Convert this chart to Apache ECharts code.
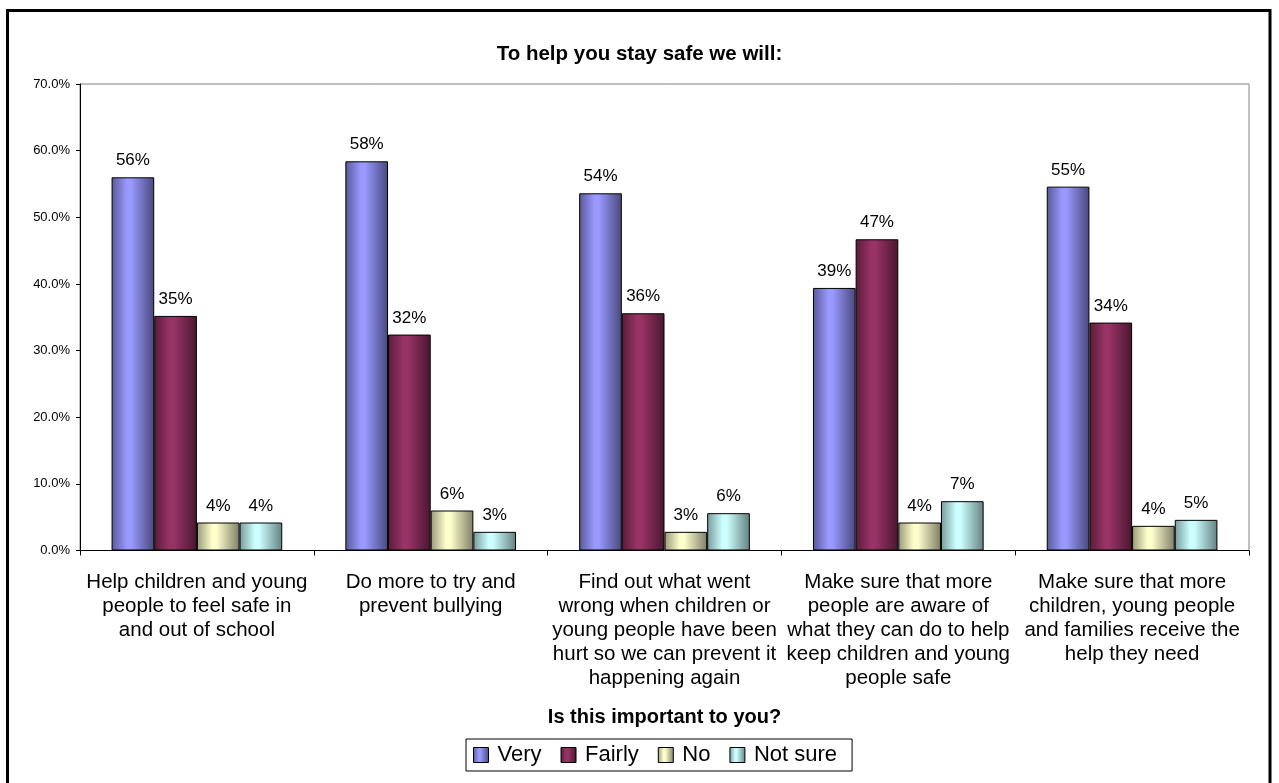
<!DOCTYPE html>
<html>
<head>
<meta charset="utf-8">
<script src="https://cdn.jsdelivr.net/npm/echarts@6/dist/echarts.min.js"></script>
<style>
  html, body { margin: 0; padding: 0; background: #fff; }
  #chart { width: 1279px; height: 783px; }
</style>
</head>
<body>
<div id="chart"></div>
<script>
// Survey answers (percent of respondents) for each commitment
const categories = [
  'Help children and young\npeople to feel safe in\nand out of school',
  'Do more to try and\nprevent bullying',
  'Find out what went\nwrong when children or\nyoung people have been\nhurt so we can prevent it\nhappening again',
  'Make sure that more\npeople are aware of\nwhat they can do to help\nkeep children and young\npeople safe',
  'Make sure that more\nchildren, young people\nand families receive the\nhelp they need'
];
const seriesNames = ['Very', 'Fairly', 'No', 'Not sure'];
const veryValues    = [56.0, 58.4, 53.6, 39.4, 54.6];
const fairlyValues  = [35.2, 32.4, 35.6, 46.7, 34.2];
const noValues      = [4.2, 6.0, 2.8, 4.2, 3.7];
const notSureValues = [4.2, 2.8, 5.6, 7.4, 4.6];
const yTicks = { min: 0, max: 70, interval: 10 };

const FONT = "'Liberation Sans', Arial, sans-serif";

// Shaded bar fill: darker edges, light band left of centre
function shade(edgeL, mid, edgeR) {
  return new echarts.graphic.LinearGradient(0, 0, 1, 0, [
    { offset: 0, color: edgeL },
    { offset: 0.36, color: mid },
    { offset: 0.46, color: mid },
    { offset: 1, color: edgeR }
  ]);
}
const fills = [
  shade('#585898', '#9999ff', '#48487c'),
  shade('#581c3a', '#993366', '#48172f'),
  shade('#98987a', '#ffffcc', '#7e7e68'),
  shade('#789a9a', '#ccffff', '#648080')
];

const valueSets = [veryValues, fairlyValues, noValues, notSureValues];

const series = seriesNames.map((name, i) => ({
  name: name,
  type: 'bar',
  data: valueSets[i],
  barGap: '0%',
  barCategoryGap: '27%',
  itemStyle: { color: fills[i], borderColor: '#000', borderWidth: 1 },
  label: {
    show: true,
    position: 'top',
    distance: 8,
    fontFamily: FONT,
    fontSize: 17,
    color: '#000',
    formatter: p => Math.round(p.value) + '%'
  }
}));

const chart = echarts.init(document.getElementById('chart'), null, { renderer: 'canvas' });
chart.setOption({
  animation: false,
  backgroundColor: '#fff',
  title: {
    text: 'To help you stay safe we will:',
    left: 'center',
    top: 39,
    textStyle: { fontFamily: FONT, fontSize: 20.5, fontWeight: 'bold', color: '#000' }
  },
  legend: {
    data: seriesNames,
    left: 466,
    top: 739,
    orient: 'horizontal',
    icon: 'rect',
    itemWidth: 15,
    itemHeight: 15,
    itemGap: 19,
    borderColor: '#000',
    borderWidth: 1,
    padding: [5, 15, 5, 7],
    textStyle: { fontFamily: FONT, fontSize: 22, color: '#000', padding: [0, 0, 0, 4] },
    itemStyle: { borderColor: '#000', borderWidth: 1 }
  },
  grid: {
    left: 80,
    top: 84,
    right: 30,
    bottom: 232.5,
    show: true,
    borderColor: '#808080',
    borderWidth: 1,
    backgroundColor: '#fff'
  },
  xAxis: {
    type: 'category',
    data: categories,
    name: 'Is this important to you?',
    nameLocation: 'middle',
    nameGap: 157,
    nameTextStyle: { fontFamily: FONT, fontSize: 20, fontWeight: 'bold', color: '#000' },
    axisLine: { lineStyle: { color: '#000', width: 1 } },
    axisTick: { show: true, length: 5, lineStyle: { color: '#000' } },
    axisLabel: {
      interval: 0,
      margin: 20,
      fontFamily: FONT,
      fontSize: 20.5,
      lineHeight: 24,
      color: '#000',
      align: 'center'
    },
    splitLine: { show: false }
  },
  yAxis: {
    type: 'value',
    min: yTicks.min,
    max: yTicks.max,
    interval: yTicks.interval,
    axisLine: { show: true, lineStyle: { color: '#000', width: 1 } },
    axisTick: { show: true, length: 4, lineStyle: { color: '#000' } },
    axisLabel: {
      margin: 10,
      fontFamily: FONT,
      fontSize: 13,
      color: '#000',
      padding: [3, 0, 0, 0],
      formatter: v => v.toFixed(1) + '%'
    },
    splitLine: { show: false }
  },
  graphic: [{
    type: 'rect',
    shape: { x: 7.5, y: 10.5, width: 1262.5, height: 800 },
    style: { fill: 'none', stroke: '#000', lineWidth: 3 },
    silent: true,
    z: 100
  }],
  series: series
});
</script>
</body>
</html>
